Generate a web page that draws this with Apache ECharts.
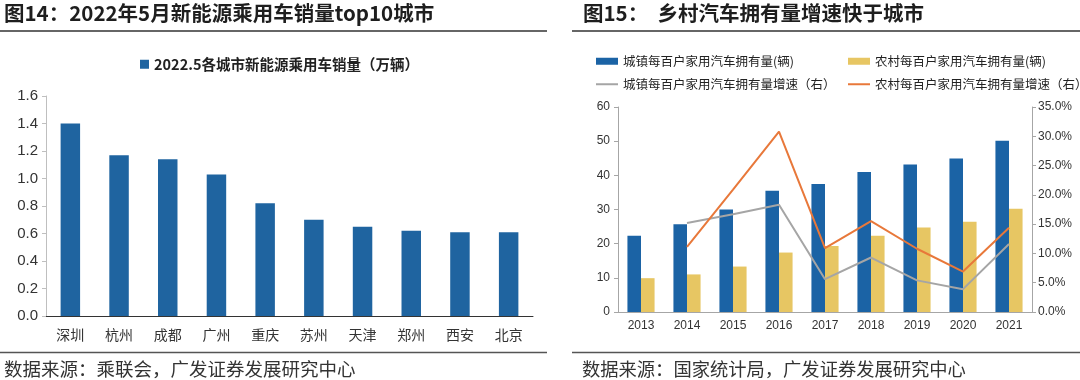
<!DOCTYPE html>
<html>
<head>
<meta charset="utf-8">
<script src="https://cdn.jsdelivr.net/npm/echarts@6/dist/echarts.min.js"></script>
<style>
html,body{margin:0;padding:0;background:#fff;}
#c{width:1080px;height:380px;}
</style>
</head>
<body>
<div id="c"></div>
<script>
// ---- Figure 14 data ----
const cities = ['深圳','杭州','成都','广州','重庆','苏州','天津','郑州','西安','北京'];
const nevSales = [1.40, 1.17, 1.14, 1.03, 0.82, 0.70, 0.65, 0.62, 0.61, 0.61];
const salesTicks = [0, 1.6, 0.2];

// ---- Figure 15 data ----
const years = ['2013','2014','2015','2016','2017','2018','2019','2020','2021'];
const urbanCars = [22.3, 25.7, 30.0, 35.5, 37.5, 41.0, 43.2, 44.9, 50.1];
const ruralCars = [9.9, 11.0, 13.3, 17.4, 19.3, 22.3, 24.7, 26.4, 30.2];
const urbanGrowth = [null, 0.152, 0.167, 0.183, 0.056, 0.093, 0.054, 0.039, 0.116];
const ruralGrowth = [null, 0.111, 0.209, 0.308, 0.109, 0.155, 0.108, 0.069, 0.144];

const sans = "'Liberation Sans', Arial, 'Noto Sans CJK SC', sans-serif";
const cjk = "'Noto Sans CJK SC', sans-serif";

const chart = echarts.init(document.getElementById('c'), null, {renderer:'canvas'});

const legendText = {fontFamily: cjk, fontSize: 12.5, color: '#222'};
const lineIcon = 'rect';

chart.setOption({
  animation: false,
  backgroundColor: '#fff',
  title: [
    {text: '图14：2022年5月新能源乘用车销量top10城市', left: 4, top: 3, padding: 0,
     textStyle: {fontFamily: cjk, fontSize: 20.5, fontWeight: 'bold', color: '#1e1e1e'}},
    {text: '图15：  乡村汽车拥有量增速快于城市', left: 583, top: 3, padding: 0,
     textStyle: {fontFamily: cjk, fontSize: 20.5, fontWeight: 'bold', color: '#1e1e1e'}},
    {text: '数据来源：乘联会，广发证券发展研究中心', left: 4, top: 360, padding: 0,
     textStyle: {fontFamily: cjk, fontSize: 18.5, fontWeight: 'normal', color: '#333'}},
    {text: '数据来源：国家统计局，广发证券发展研究中心', left: 582, top: 360, padding: 0,
     textStyle: {fontFamily: cjk, fontSize: 18.3, fontWeight: 'normal', color: '#333'}}
  ],
  graphic: [
    {type: 'line', shape: {x1: 0, y1: 31, x2: 547, y2: 31}, style: {stroke: '#333', lineWidth: 1.5}},
    {type: 'line', shape: {x1: 572, y1: 31, x2: 1080, y2: 31}, style: {stroke: '#333', lineWidth: 1.5}},
    {type: 'line', shape: {x1: 0, y1: 352.5, x2: 547, y2: 352.5}, style: {stroke: '#555', lineWidth: 1.5}},
    {type: 'line', shape: {x1: 572, y1: 352.5, x2: 1080, y2: 352.5}, style: {stroke: '#555', lineWidth: 1.5}}
  ],
  legend: [
    {data: ['2022.5各城市新能源乘用车销量（万辆）'], left: 140, top: 57, padding: 0, icon: 'rect',
     itemWidth: 9, itemHeight: 9,
     textStyle: {fontFamily: cjk, fontSize: 14.5, fontWeight: 'bold', color: '#222'}},
    {data: ['城镇每百户家用汽车拥有量(辆)'], left: 596, top: 55, padding: 0, icon: 'rect',
     itemWidth: 22, itemHeight: 7, textStyle: legendText},
    {data: ['农村每百户家用汽车拥有量(辆)'], left: 848, top: 55, padding: 0, icon: 'rect',
     itemWidth: 22, itemHeight: 7, textStyle: legendText},
    {data: ['城镇每百户家用汽车拥有量增速（右）'], left: 596, top: 78, padding: 0, icon: lineIcon,
     itemWidth: 22, itemHeight: 2, textStyle: legendText},
    {data: ['农村每百户家用汽车拥有量增速（右）'], left: 848, top: 78, padding: 0, icon: lineIcon,
     itemWidth: 22, itemHeight: 2, textStyle: legendText}
  ],
  grid: [
    {left: 46, right: 547, top: 96, bottom: 64},
    {left: 618, right: 48, top: 107, bottom: 68}
  ],
  xAxis: [
    {type: 'category', gridIndex: 0, data: cities,
     axisLine: {lineStyle: {color: '#333', width: 1}}, axisTick: {show: false},
     axisLabel: {fontFamily: cjk, fontSize: 14, color: '#333', margin: 12}},
    {type: 'category', gridIndex: 1, data: years,
     axisLine: {lineStyle: {color: '#a6a6a6', width: 1}}, axisTick: {show: false},
     axisLabel: {fontFamily: sans, fontSize: 12, color: '#333', margin: 8}}
  ],
  yAxis: [
    {type: 'value', gridIndex: 0, min: salesTicks[0], max: salesTicks[1], interval: salesTicks[2],
     axisLine: {show: true, lineStyle: {color: '#bfbfbf'}},
     axisTick: {show: true, length: 4, lineStyle: {color: '#bfbfbf'}},
     splitLine: {show: false},
     axisLabel: {fontFamily: sans, fontSize: 15, color: '#333', margin: 8,
       formatter: v => v.toFixed(1)}},
    {type: 'value', gridIndex: 1, min: 0, max: 60, interval: 10,
     axisLine: {show: true, lineStyle: {color: '#a6a6a6'}},
     axisTick: {show: true, length: 4, lineStyle: {color: '#a6a6a6'}},
     splitLine: {show: false},
     axisLabel: {fontFamily: sans, fontSize: 12, color: '#333', margin: 8}},
    {type: 'value', gridIndex: 1, position: 'right', min: 0, max: 0.35, interval: 0.05,
     axisLine: {show: true, lineStyle: {color: '#a6a6a6'}},
     axisTick: {show: true, length: 4, lineStyle: {color: '#a6a6a6'}},
     splitLine: {show: false},
     axisLabel: {fontFamily: sans, fontSize: 12, color: '#333', margin: 6,
       formatter: v => (v * 100).toFixed(1) + '%'}}
  ],
  series: [
    {name: '2022.5各城市新能源乘用车销量（万辆）', type: 'bar', xAxisIndex: 0, yAxisIndex: 0,
     data: nevSales, barWidth: '40%', itemStyle: {color: '#1f64a0'}},
    {name: '城镇每百户家用汽车拥有量(辆)', type: 'bar', xAxisIndex: 1, yAxisIndex: 1,
     data: urbanCars, barGap: '0%', barCategoryGap: '41%', itemStyle: {color: '#1b63a5'}},
    {name: '农村每百户家用汽车拥有量(辆)', type: 'bar', xAxisIndex: 1, yAxisIndex: 1,
     data: ruralCars, barGap: '0%', barCategoryGap: '41%', itemStyle: {color: '#e7c663'}},
    {name: '城镇每百户家用汽车拥有量增速（右）', type: 'line', xAxisIndex: 1, yAxisIndex: 2,
     data: urbanGrowth, symbol: 'none', lineStyle: {color: '#a5a5a5', width: 2},
     itemStyle: {color: '#a5a5a5'}},
    {name: '农村每百户家用汽车拥有量增速（右）', type: 'line', xAxisIndex: 1, yAxisIndex: 2,
     data: ruralGrowth, symbol: 'none', lineStyle: {color: '#e8783a', width: 2},
     itemStyle: {color: '#e8783a'}}
  ]
});
</script>
</body>
</html>
